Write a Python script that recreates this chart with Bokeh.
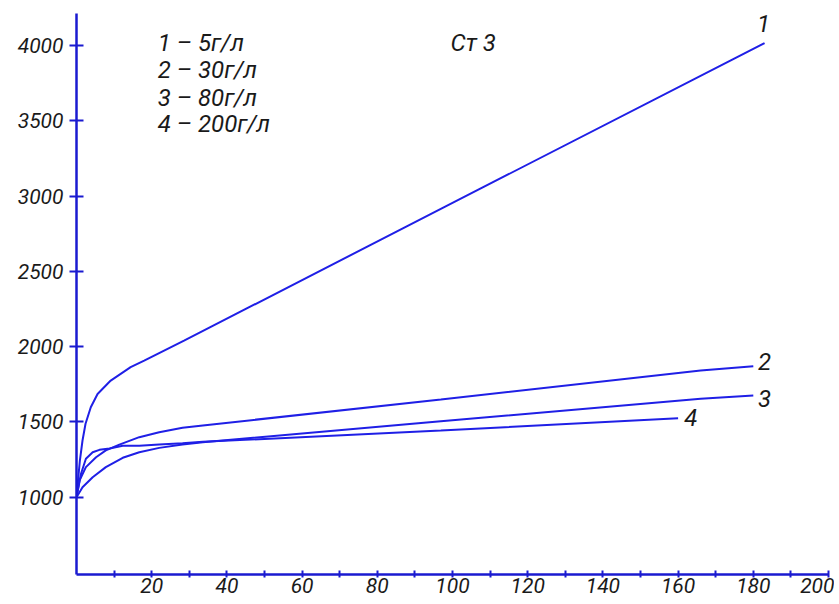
from bokeh.plotting import figure
from bokeh.models import FixedTicker, Range1d
from bokeh.core.properties import value
from bokeh.embed import file_html
from bokeh.resources import INLINE

# ---- data ----
x1 = [0, 0.4, 0.9, 1.6, 2.4, 3.8, 5.6, 9.1, 14.4, 18.0, 28.6, 100, 183]
y1 = [1000, 1111, 1244, 1377, 1488, 1598, 1686, 1775, 1864, 1908, 2040, 2955, 4016]

x2 = [0, 0.8, 2.5, 5.2, 7.8, 11.4, 16.7, 22.0, 28.2, 33.6, 96.9, 166, 180]
y2 = [1000, 1111, 1200, 1266, 1311, 1350, 1399, 1432, 1461, 1477, 1649, 1842, 1870]

x3 = [0, 1.6, 4.3, 7.8, 12.3, 16.7, 22.0, 28.2, 33.6, 96.9, 166, 180]
y3 = [1000, 1067, 1133, 1200, 1262, 1299, 1328, 1350, 1366, 1505, 1654, 1676]

x4 = [0, 1.2, 2.5, 4.3, 6.1, 8.8, 12.3, 16.7, 22.0, 28.2, 33.6, 96.9, 160]
y4 = [1000, 1156, 1256, 1299, 1315, 1324, 1342, 1342, 1350, 1359, 1368, 1443, 1525]

x_major = [20, 40, 60, 80, 100, 120, 140, 160, 180, 200]
x_minor = [10, 30, 50, 70, 90, 110, 130, 150, 170, 190]
y_ticks = [1000, 1500, 2000, 2500, 3000, 3500, 4000]

legend_lines = ["1 – 5г/л", "2 – 30г/л", "3 – 80г/л", "4 – 200г/л"]
title_text = "Ст 3"
curve_names = ["1", "2", "3", "4"]

FONT = "Roboto"
LINE = "#1f1fe6"
AXIS = "#1a1ad0"
TXT = "#1a1a1a"

p = figure(frame_width=752, frame_height=561, output_backend="svg",
           toolbar_location=None,
           x_range=Range1d(0, 200), y_range=Range1d(487, 4213),
           min_border_left=76, min_border_right=6, min_border_top=13,
           min_border_bottom=26)
p.outline_line_color = None
p.grid.visible = False
p.background_fill_color = "white"
p.border_fill_color = "white"

# axes
xa = p.xaxis[0]
xa.ticker = FixedTicker(ticks=x_major, minor_ticks=x_minor)
xa.axis_line_color = AXIS
xa.axis_line_width = 2.5
xa.major_tick_line_color = AXIS
xa.minor_tick_line_color = AXIS
xa.major_tick_line_width = 2
xa.minor_tick_line_width = 2
xa.major_tick_in = 4
xa.major_tick_out = 3
xa.minor_tick_in = 4
xa.minor_tick_out = 3
xa.major_label_standoff = 0
xa.major_label_text_font = FONT
xa.major_label_text_font_style = "italic"
xa.major_label_text_font_size = "21px"
xa.major_label_text_color = TXT

ya = p.yaxis[0]
ya.ticker = FixedTicker(ticks=y_ticks, minor_ticks=[])
ya.axis_line_color = AXIS
ya.axis_line_width = 2.5
ya.major_tick_line_color = AXIS
ya.major_tick_line_width = 2
ya.major_tick_in = 7
ya.major_tick_out = 7
ya.minor_tick_in = 0
ya.minor_tick_out = 0
ya.major_label_standoff = 6
ya.major_label_text_font = FONT
ya.major_label_text_font_style = "italic"
ya.major_label_text_font_size = "21px"
ya.major_label_text_color = TXT

# curves
for xs, ys in [(x1, y1), (x2, y2), (x3, y3), (x4, y4)]:
    p.line(xs, ys, line_color=LINE, line_width=2)

# curve labels
p.text(x=[182.7, 183, 183, 163.4], y=[4146, 1902, 1656, 1530], text=curve_names,
       text_font=value(FONT), text_font_style="italic", text_font_size="24px",
       text_color=TXT, text_align="center", text_baseline="middle")

# legend text block
p.text(x=[21.6] * 4, y=[4017, 3841, 3652, 3482], text=legend_lines,
       text_font=value(FONT), text_font_style="italic", text_font_size="24px",
       text_color=TXT, text_align="left", text_baseline="middle")

p.text(x=[99.5], y=[4020], text=[title_text],
       text_font=value(FONT), text_font_style="italic", text_font_size="24px",
       text_color=TXT, text_align="left", text_baseline="middle")

open("out.html", "w").write(file_html(p, INLINE))
